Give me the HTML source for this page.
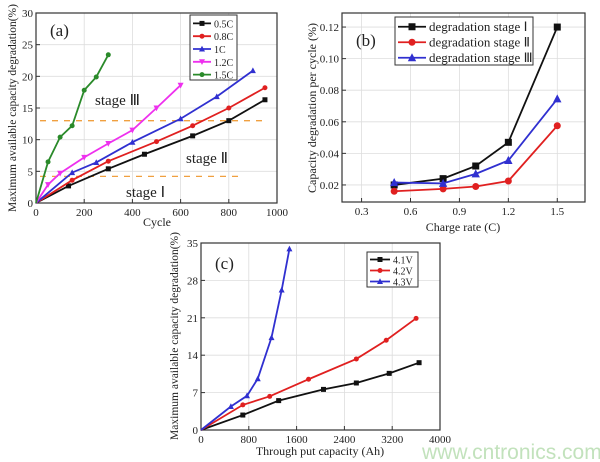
<!DOCTYPE html>
<html><head><meta charset="utf-8"><style>
html,body{margin:0;padding:0;background:#fff;width:600px;height:462px;overflow:hidden}
svg text{font-family:"Liberation Serif",serif;fill:#222}
</style></head><body>
<svg id="s" width="600" height="462" xmlns="http://www.w3.org/2000/svg"></svg>
<script>
const S=document.getElementById('s');let h='';
function panel(o){
 const X=v=>o.x0+(v-o.xmin)/(o.xmax-o.xmin)*(o.x1-o.x0);
 const Y=v=>o.y0-(v-o.ymin)/(o.ymax-o.ymin)*(o.y0-o.y1);
 o.xt.forEach(t=>{h+=`<line x1="${X(t)}" x2="${X(t)}" y1="${o.y1}" y2="${o.y0}" stroke="#ddd" stroke-width="0.8"/>`});
 o.yt.forEach(t=>{h+=`<line x1="${o.x0}" x2="${o.x1}" y1="${Y(t)}" y2="${Y(t)}" stroke="#ddd" stroke-width="0.8"/>`});
 h+=`<rect x="${o.x0}" y="${o.y1}" width="${o.x1-o.x0}" height="${o.y0-o.y1}" fill="none" stroke="#333" stroke-width="1.2"/>`;
 o.xt.forEach(t=>{h+=`<line x1="${X(t)}" x2="${X(t)}" y1="${o.y0}" y2="${o.y0-4}" stroke="#333"/><text x="${X(t)}" y="${o.y0+13}" font-size="11" text-anchor="middle">${o.xf?o.xf(t):t}</text>`});
 o.yt.forEach(t=>{h+=`<line x1="${o.x0}" x2="${o.x0+4}" y1="${Y(t)}" y2="${Y(t)}" stroke="#333"/><text x="${o.x0-3}" y="${Y(t)+4}" font-size="11" text-anchor="end">${o.yf?o.yf(t):t}</text>`});
 (o.pre||(()=>{}))(X,Y);
 o.series.forEach(s=>{
  h+=`<polyline fill="none" stroke="${s.c}" stroke-width="1.8" points="${s.d.map(p=>X(p[0])+','+Y(p[1])).join(' ')}"/>`;
  s.d.forEach((p,i)=>{if(i==0&&p[1]==0)return;h+=mk(s.m,X(p[0]),Y(p[1]),s.c,o.ms||2.5)});
 });
}
function mk(m,x,y,c,r){
 if(m=='s')return `<rect x="${x-r}" y="${y-r}" width="${2*r}" height="${2*r}" fill="${c}"/>`;
 if(m=='o')return `<circle cx="${x}" cy="${y}" r="${r}" fill="${c}"/>`;
 if(m=='t')return `<polygon points="${x},${y-r*1.3} ${x-r*1.2},${y+r} ${x+r*1.2},${y+r}" fill="${c}"/>`;
 if(m=='v')return `<polygon points="${x},${y+r*1.3} ${x-r*1.2},${y-r} ${x+r*1.2},${y-r}" fill="${c}"/>`;
 if(m=='*')return `<circle cx="${x}" cy="${y}" r="${r}" fill="${c}"/>`;
}
panel({x0:36,x1:277,y0:203,y1:13,xmin:0,xmax:1000,ymin:0,ymax:30,xt:[0,200,400,600,800,1000],yt:[0,5,10,15,20,25,30],
 pre:(X,Y)=>{h+=`<line x1="40" x2="240" y1="${Y(4.2)}" y2="${Y(4.2)}" stroke="#f0a040" stroke-width="1.3" stroke-dasharray="6,6"/><line x1="40" x2="268" y1="${Y(13)}" y2="${Y(13)}" stroke="#f0a040" stroke-width="1.3" stroke-dasharray="6,6"/>`},
 series:[
 {c:'#111',m:'s',d:[[0,0],[135,2.7],[300,5.4],[450,7.7],[650,10.6],[800,13],[950,16.3]]},
 {c:'#e02020',m:'o',d:[[0,0],[150,3.6],[300,6.6],[500,9.7],[650,12.2],[800,15],[950,18.2]]},
 {c:'#3030d0',m:'t',d:[[0,0],[150,4.8],[250,6.4],[400,9.6],[600,13.3],[750,16.8],[900,20.9]]},
 {c:'#ee30ee',m:'v',d:[[0,0],[50,2.9],[100,4.7],[200,7.2],[300,9.4],[400,11.5],[500,15],[600,18.6]]},
 {c:'#2a8a2a',m:'*',d:[[0,0],[50,6.5],[100,10.4],[150,12.2],[200,17.8],[250,19.9],[300,23.4]]}]});
panel({x0:342,x1:585,y0:202,y1:13,xmin:0.18,xmax:1.67,ymin:0.0092,ymax:0.1289,xt:[0.3,0.6,0.9,1.2,1.5],yt:[0.02,0.04,0.06,0.08,0.1,0.12],
 xf:t=>t.toFixed(1),yf:t=>t.toFixed(2),ms:3.5,
 series:[
 {c:'#111',m:'s',d:[[0.5,.02],[0.8,.024],[1.0,.032],[1.2,.047],[1.5,.12]]},
 {c:'#e02020',m:'o',d:[[0.5,.016],[0.8,.0175],[1.0,.019],[1.2,.0225],[1.5,.0575]]},
 {c:'#3030d0',m:'t',d:[[0.5,.0215],[0.8,.021],[1.0,.027],[1.2,.0355],[1.5,.0745]]}]});
panel({x0:201,x1:440,y0:430,y1:243,xmin:0,xmax:4000,ymin:0,ymax:35,xt:[0,800,1600,2400,3200,4000],yt:[0,7,14,21,28,35],
 series:[
 {c:'#111',m:'s',d:[[0,0],[700,2.8],[1300,5.5],[2050,7.6],[2600,8.8],[3150,10.6],[3650,12.6]]},
 {c:'#e02020',m:'o',d:[[0,0],[700,4.7],[1150,6.3],[1800,9.5],[2600,13.3],[3100,16.8],[3600,20.9]]},
 {c:'#3030d0',m:'t',d:[[0,0],[500,4.4],[770,6.4],[950,9.6],[1180,17.3],[1350,26.2],[1480,33.9]]}]});
function legend(x,y,w,hh,items,dy,fs,ll){
 h+=`<rect x="${x}" y="${y}" width="${w}" height="${hh}" fill="#fff" stroke="#333"/>`;
 items.forEach((it,i)=>{const yy=y+dy/2+2+i*dy;h+=`<line x1="${x+3}" x2="${x+3+ll}" y1="${yy}" y2="${yy}" stroke="${it[1]}" stroke-width="1.8"/>`+mk(it[2],x+3+ll/2,yy,it[1],fs>11?3.5:2.5)+`<text x="${x+6+ll}" y="${yy+4}" font-size="${fs}">${it[0]}</text>`});
}
legend(190,15,47,65,[['0.5C','#111','s'],['0.8C','#e02020','o'],['1C','#3030d0','t'],['1.2C','#ee30ee','v'],['1.5C','#2a8a2a','*']],12.8,10,18);
legend(395,17,138,48,[['degradation stage Ⅰ','#111','s'],['degradation stage Ⅱ','#e02020','o'],['degradation stage Ⅲ','#3030d0','t']],15.5,13,28);
legend(367,252,51,35,[['4.1V','#111','s'],['4.2V','#e02020','o'],['4.3V','#3030d0','t']],11,10,20);
h+=`<text x="50" y="36" font-size="17">(a)</text><text x="356" y="46" font-size="17">(b)</text><text x="215" y="269" font-size="17">(c)</text>
<text x="95" y="105" font-size="15">stage Ⅲ</text><text x="186" y="163" font-size="15">stage Ⅱ</text><text x="126" y="197" font-size="15">stage Ⅰ</text>
<text x="157" y="226" font-size="12" text-anchor="middle">Cycle</text>
<text x="463" y="231" font-size="12" text-anchor="middle">Charge rate (C)</text>
<text x="320" y="455" font-size="12" text-anchor="middle">Through put capacity (Ah)</text>
<text transform="translate(16,108) rotate(-90)" font-size="11.5" text-anchor="middle">Maximum available capacity degradation(%)</text>
<text transform="translate(316,108) rotate(-90)" font-size="12" text-anchor="middle">Capacity degradation per cycle (%)</text>
<text transform="translate(178,336) rotate(-90)" font-size="11.5" text-anchor="middle">Maximum available capacity degradation(%)</text>
<text x="422" y="459" font-size="21" style="font-family:'Liberation Sans',sans-serif;fill:#c2e2bc">www.cntronics.com</text>`;
S.innerHTML=h;
</script>
</body></html>
